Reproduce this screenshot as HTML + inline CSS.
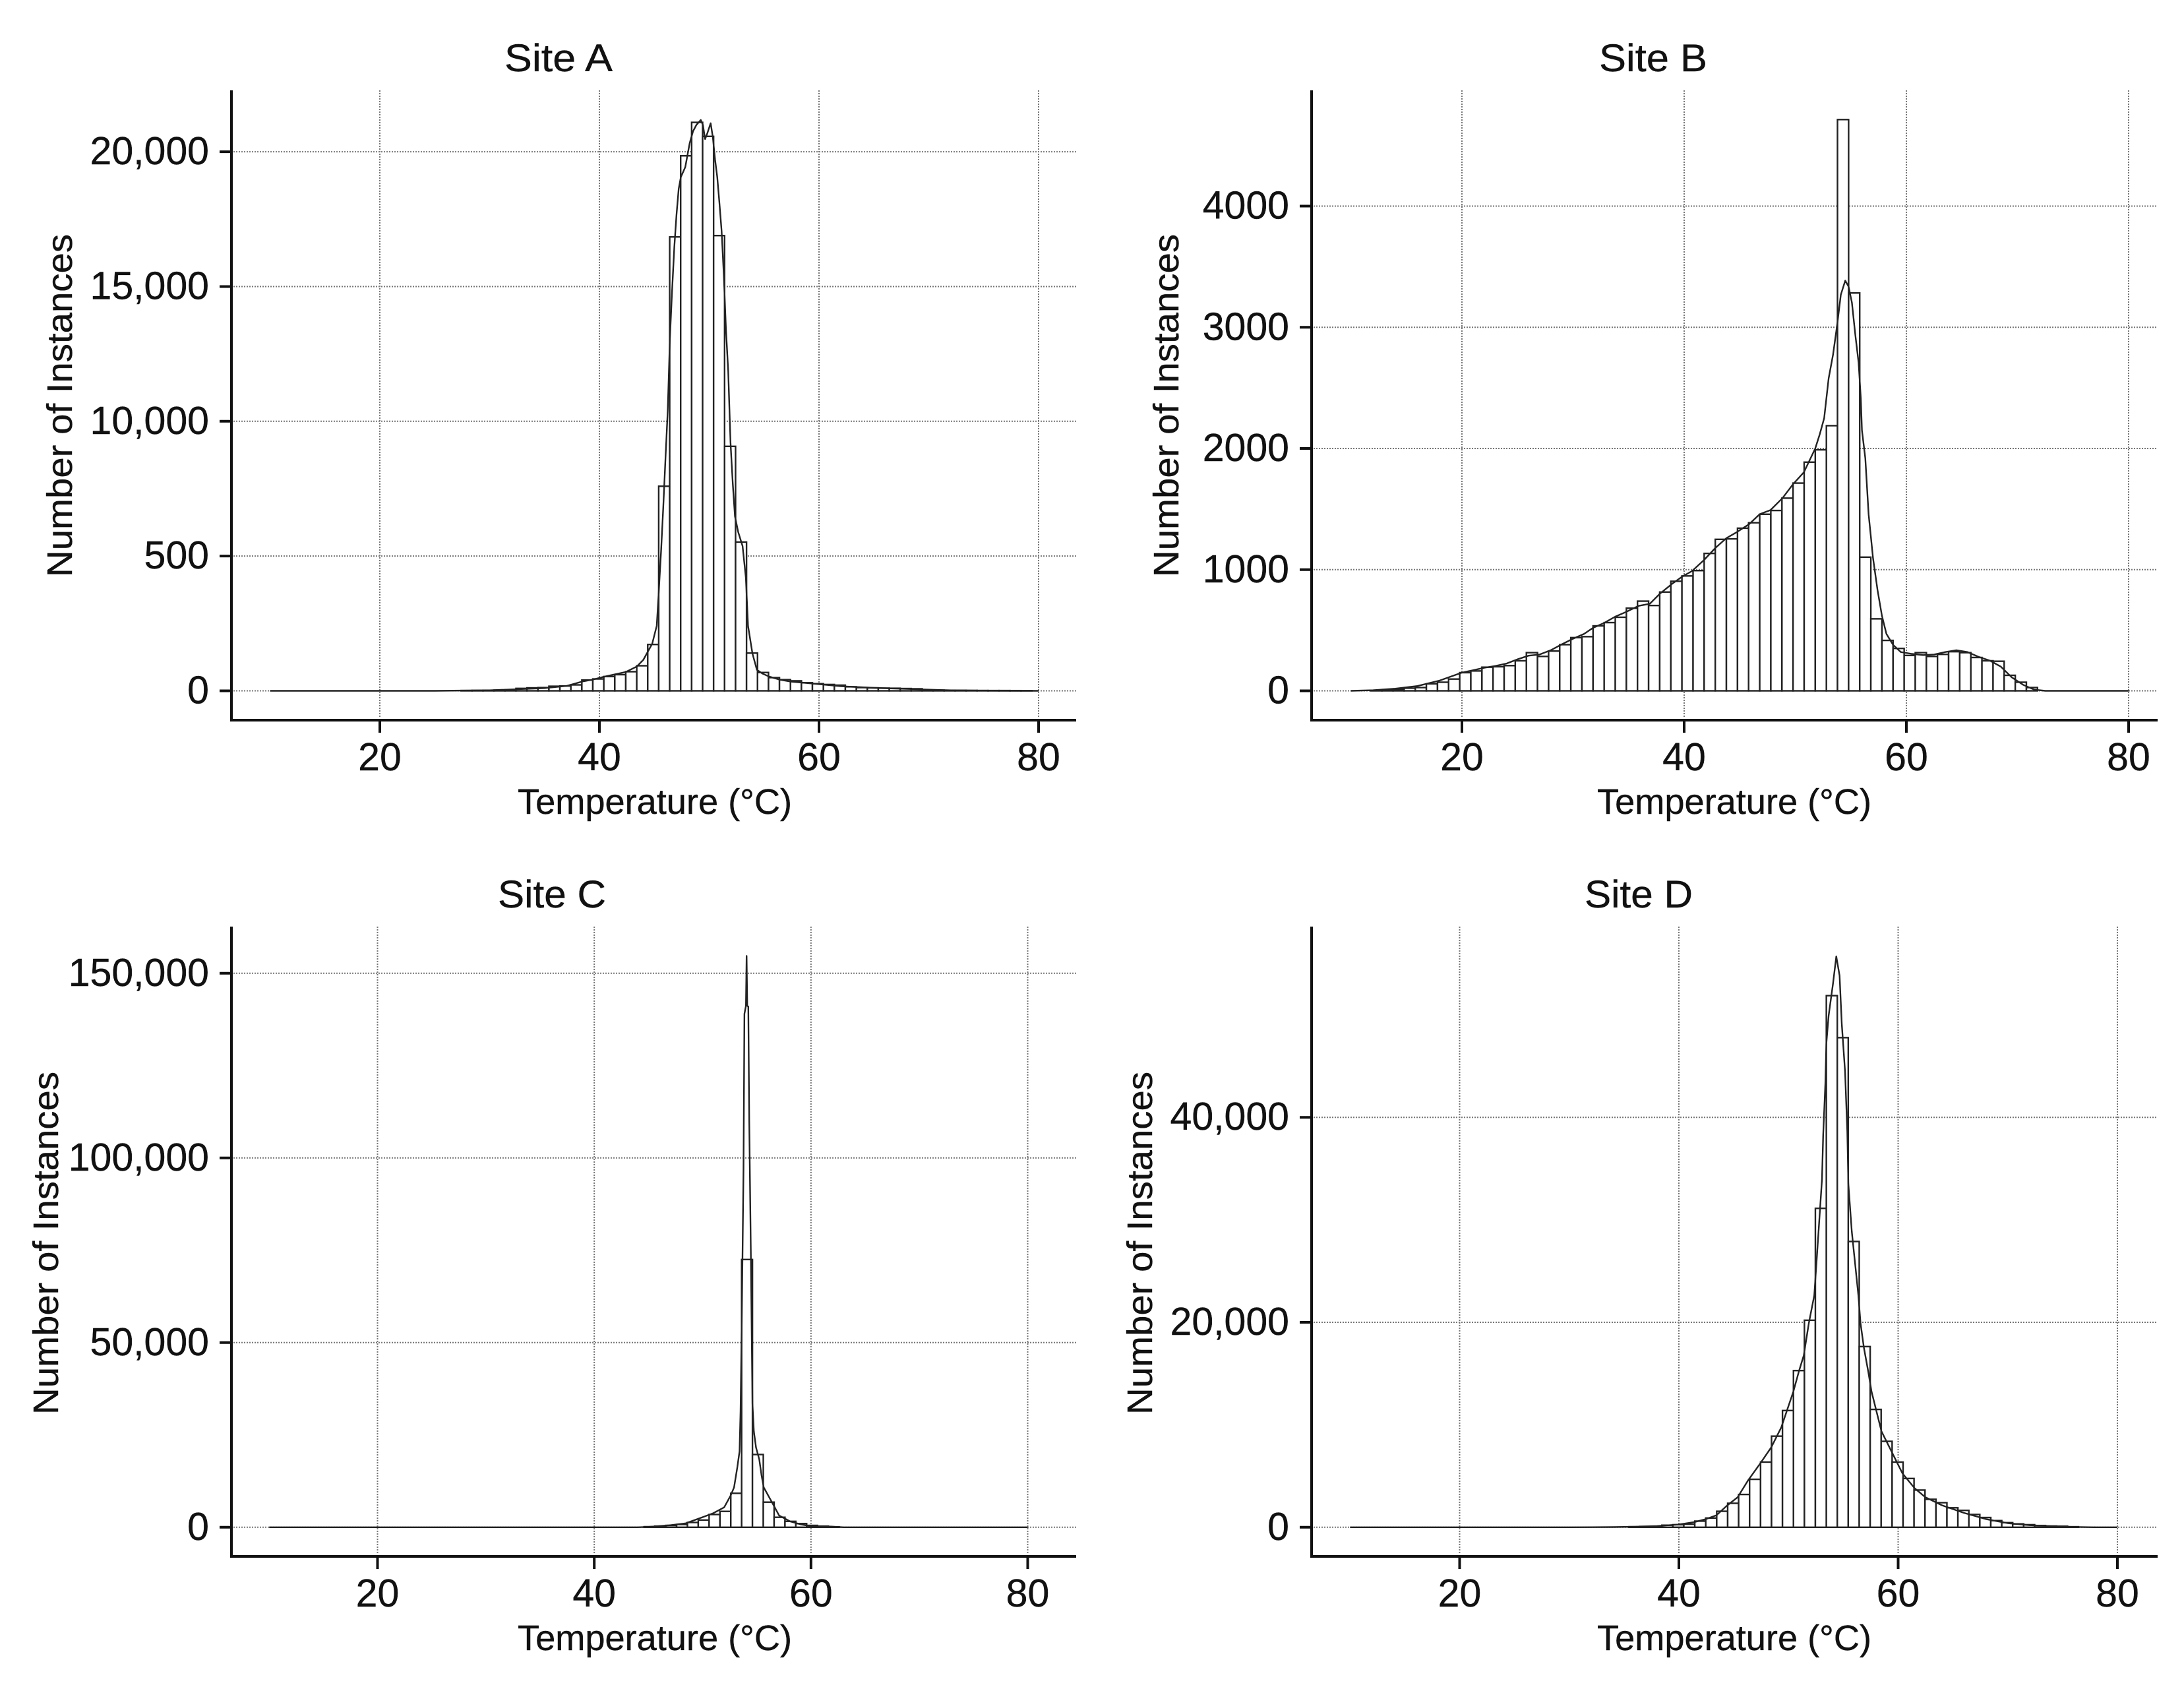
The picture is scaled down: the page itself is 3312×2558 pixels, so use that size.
<!DOCTYPE html>
<html lang="en">
<head>
<meta charset="utf-8">
<title>Temperature histograms by site</title>
<style>
  html, body { margin: 0; padding: 0; background: #fff; }
  svg { display: block; }
  text { font-family: "Liberation Sans", sans-serif; fill: #111; stroke: #111; stroke-width: 0.4px; }
  .title { font-size: 58px; text-anchor: middle; }
  .xlabel, .ylabel { font-size: 54px; text-anchor: middle; }
</style>
</head>
<body>
<svg id="figure" xmlns="http://www.w3.org/2000/svg" width="3312" height="2558" viewBox="0 0 3312 2558">
  <rect x="0" y="0" width="3312" height="2558" fill="#fff"/>

  <g id="panel-a"></g>
  <g id="panel-b"></g>
  <g id="panel-c"></g>
  <g id="panel-d"></g>

  <text class="title" x="847" y="108" textLength="164" lengthAdjust="spacingAndGlyphs">Site A</text>
  <text class="xlabel" x="993" y="1234" textLength="416" lengthAdjust="spacingAndGlyphs">Temperature (°C)</text>
  <text class="ylabel" transform="translate(109 615) rotate(-90)" textLength="520" lengthAdjust="spacingAndGlyphs">Number of Instances</text>

  <text class="title" x="2507" y="108" textLength="164" lengthAdjust="spacingAndGlyphs">Site B</text>
  <text class="xlabel" x="2630" y="1234" textLength="416" lengthAdjust="spacingAndGlyphs">Temperature (°C)</text>
  <text class="ylabel" transform="translate(1787 615) rotate(-90)" textLength="520" lengthAdjust="spacingAndGlyphs">Number of Instances</text>

  <text class="title" x="837" y="1376" textLength="164" lengthAdjust="spacingAndGlyphs">Site C</text>
  <text class="xlabel" x="993" y="2502" textLength="416" lengthAdjust="spacingAndGlyphs">Temperature (°C)</text>
  <text class="ylabel" transform="translate(88 1885) rotate(-90)" textLength="520" lengthAdjust="spacingAndGlyphs">Number of Instances</text>

  <text class="title" x="2485" y="1376" textLength="164" lengthAdjust="spacingAndGlyphs">Site D</text>
  <text class="xlabel" x="2630" y="2502" textLength="416" lengthAdjust="spacingAndGlyphs">Temperature (°C)</text>
  <text class="ylabel" transform="translate(1747 1885) rotate(-90)" textLength="520" lengthAdjust="spacingAndGlyphs">Number of Instances</text>
</svg>

<script>
// ---------- shared axis data ----------
const xTickValues = [20, 40, 60, 80];
const xTickLabels = ['20', '40', '60', '80'];

// ---------- Site A ----------
const yTickValuesA = [0, 5000, 10000, 15000, 20000];
const yTickLabelsA = ['0', '500', '10,000', '15,000', '20,000'];
const firstBinEdgeA = 27.4;
const binCountsA = [10, 15, 20, 25, 35, 90, 110, 120, 170, 180, 220, 400, 440, 530, 600, 710, 930, 1720, 7590, 16840, 19850, 21090, 20570, 16890, 9070, 5520, 1400, 680, 490, 415, 370, 300, 265, 235, 210, 150, 120, 110, 100, 95, 85, 75, 30, 25, 20, 18, 15, 12, 10, 10, 8, 6];
const curveTempsA = [10, 25, 30, 35, 37, 38.5, 39.4, 40.4, 41.4, 42.4, 43.4, 44, 44.81, 45.22, 45.42, 45.62, 45.82, 46.02, 46.22, 46.42, 46.62, 46.82, 47.02, 47.22, 47.42, 47.82, 48.22, 48.53, 48.83, 49.23, 49.43, 49.63, 49.83, 50.13, 50.33, 50.53, 50.73, 50.93, 51.13, 51.33, 51.53, 51.73, 51.94, 52.14, 52.34, 52.64, 53.04, 53.34, 53.54, 53.94, 54.34, 54.84, 55.45, 56.45, 57.45, 59.46, 62, 65, 68, 72, 75, 80];
const curveCountsA = [0, 0, 20, 100, 180, 350, 415, 520, 610, 700, 900, 1150, 1750, 2410, 3740, 5220, 6850, 8630, 10400, 13070, 14840, 16470, 17660, 18620, 19060, 19430, 20320, 20760, 20990, 21180, 20990, 20470, 20690, 21060, 20540, 19730, 19060, 18100, 17060, 15440, 13360, 11880, 9220, 7740, 6480, 5890, 5370, 4190, 2410, 1380, 780, 640, 530, 410, 340, 270, 170, 110, 70, 20, 5, 0];

// ---------- Site B ----------
const yTickValuesB = [0, 1000, 2000, 3000, 4000];
const yTickLabelsB = ['0', '1000', '2000', '3000', '4000'];
const firstBinEdgeB = 11.8;
const binCountsB = [3, 10, 13, 22, 27, 58, 71, 97, 150, 164, 195, 199, 208, 248, 315, 284, 328, 381, 439, 447, 536, 563, 607, 682, 740, 704, 815, 904, 948, 992, 1134, 1250, 1254, 1342, 1387, 1457, 1488, 1590, 1714, 1887, 1989, 2188, 4714, 3283, 1103, 594, 416, 350, 292, 315, 284, 301, 323, 315, 275, 248, 244, 128, 71, 27];
const curveTempsB = [10, 12, 14, 16, 18, 20, 21, 22, 23, 24, 25, 26, 27, 28, 29, 30, 31, 31.8, 32.8, 33.8, 34.8, 35.9, 36.9, 37.8, 38.9, 39.8, 40.7, 41.8, 42.8, 43.8, 44.75, 45.85, 46.8, 47.76, 48.85, 49.8, 50.78, 51.8, 52.2, 52.6, 53, 53.4, 53.8, 54.1, 54.5, 54.8, 55.1, 55.4, 55.7, 55.9, 56, 56.3, 56.6, 57, 57.4, 57.8, 58.2, 58.8, 59.5, 60.5, 61.5, 62.5, 63.5, 64.5, 65.5, 66.5, 67.5, 68.5, 69.5, 70.5, 71.5, 72.5, 80];
const curveCountsB = [0, 5, 18, 40, 85, 150, 170, 190, 205, 225, 260, 290, 300, 335, 385, 430, 470, 520, 560, 612, 652, 701, 718, 800, 882, 941, 988, 1080, 1178, 1260, 1310, 1376, 1458, 1491, 1590, 1705, 1804, 2000, 2117, 2249, 2578, 2775, 3039, 3269, 3385, 3335, 3203, 2940, 2710, 2413, 2150, 1920, 1458, 1096, 833, 620, 470, 380, 320, 305, 295, 300, 320, 335, 320, 280, 250, 200, 110, 50, 10, 0, 0];

// ---------- Site C ----------
const yTickValuesC = [0, 50000, 100000, 150000];
const yTickLabelsC = ['0', '50,000', '100,000', '150,000'];
const firstBinEdgeC = 44.6;
const binCountsC = [150, 300, 500, 750, 1300, 1950, 3460, 4300, 9200, 72500, 19700, 6800, 2700, 1600, 1000, 500, 300, 100];
const curveTempsC = [10, 44, 45, 46.92, 48.44, 49.96, 50.97, 51.99, 52.6, 52.9, 53.2, 53.41, 53.5, 53.61, 53.77, 53.86, 54, 54.06, 54.12, 54.22, 54.3, 54.45, 54.6, 54.73, 54.93, 55.23, 55.44, 55.64, 56.45, 57.06, 58.07, 59.09, 59.9, 61.9, 63, 80];
const curveCountsC = [0, 0, 100, 540, 1080, 2700, 3790, 5400, 8660, 10800, 16200, 20560, 31400, 54600, 96800, 139000, 141200, 154700, 141200, 141000, 110000, 75000, 33500, 26000, 21600, 18400, 14000, 10800, 6500, 3200, 1600, 750, 320, 200, 0, 0];

// ---------- Site D ----------
const yTickValuesD = [0, 20000, 40000];
const yTickLabelsD = ['0', '20,000', '40,000'];
const firstBinEdgeD = 35.45;
const binCountsD = [50, 80, 100, 200, 250, 300, 600, 900, 1560, 2340, 3200, 4680, 6360, 8890, 11390, 15290, 20200, 31120, 51870, 47775, 27885, 17630, 11500, 8385, 6360, 4760, 3630, 2730, 2400, 1900, 1650, 1250, 950, 650, 450, 330, 250, 170, 120, 100, 50];
const curveTempsD = [10, 30, 34, 36, 38, 40, 41.41, 42.41, 43.42, 44.42, 45.36, 46.33, 47.43, 48.43, 49.34, 50.45, 50.95, 51.39, 51.85, 52.35, 52.55, 52.86, 53.05, 53.16, 53.36, 53.45, 53.66, 54.06, 54.36, 54.66, 54.86, 55.16, 55.36, 55.46, 55.77, 56.07, 56.37, 56.57, 56.87, 57.27, 57.57, 57.98, 58.48, 59.48, 60.39, 61.49, 62.49, 64, 66, 68, 70, 72, 74, 76, 78, 80];
const curveCountsD = [0, 0, 20, 50, 120, 270, 507, 780, 1170, 2145, 2925, 4600, 6240, 7800, 9750, 13260, 15210, 16770, 19890, 22620, 25740, 30810, 33930, 38220, 43290, 47190, 49920, 53040, 55700, 53820, 49140, 44460, 38610, 33540, 28860, 25740, 22620, 19890, 17550, 15210, 13260, 11500, 9360, 7215, 5265, 3820, 2925, 2145, 1400, 800, 400, 200, 100, 30, 0, 0];

// ---------- drawing ----------
const SVG_NS = 'http://www.w3.org/2000/svg';

function shape(tag, attrs) {
  const el = document.createElementNS(SVG_NS, tag);
  Object.keys(attrs).forEach(function (k) { el.setAttribute(k, attrs[k]); });
  return el;
}

function drawPanel(cfg) {
  const root = document.getElementById(cfg.id);
  // axis functions: linear through two calibrated anchor ticks
  const xScale = function (t) { return cfg.x20 + (t - 20) * (cfg.x80 - cfg.x20) / 60; };
  const yScale = function (v) { return cfg.y0 - v * cfg.yPerUnit; };
  const prefix = cfg.prefix;

  // grid
  cfg.yTicks.forEach(function (v) {
    const line = shape('line', { x1: cfg.left + 3, x2: cfg.right, y1: yScale(v), y2: yScale(v), stroke: '#777', 'stroke-width': 2, 'stroke-dasharray': '2 2' });
    
    
    root.appendChild(line);
  });
  xTickValues.forEach(function (t) {
    const line = shape('line', { x1: xScale(t), x2: xScale(t), y1: cfg.top, y2: cfg.bottom - 3, stroke: '#777', 'stroke-width': 2, 'stroke-dasharray': '2 2' });
    
    
    root.appendChild(line);
  });

  // histogram bars (1 °C bins)
  cfg.counts.forEach(function (count, i) {
    const edge = cfg.firstEdge + i;
    const x0 = xScale(edge);
    const x1 = xScale(edge + 1);
    const yTop = yScale(count);
    const bar = shape('rect', { x: x0, y: yTop, width: x1 - x0, height: cfg.y0 - yTop, fill: '#fff', stroke: '#222', 'stroke-width': 2.4 });
    
    
    root.appendChild(bar);
  });

  // density curve
  const points = cfg.curveTemps.map(function (t, i) {
    return xScale(t).toFixed(1) + ',' + yScale(cfg.curveCounts[i]).toFixed(1);
  }).join(' ');
  const curve = shape('polyline', { points: points, fill: 'none', stroke: '#222', 'stroke-width': 2.4, 'stroke-linejoin': 'round' });
  
  
  root.appendChild(curve);

  // axis lines
  const yAxis = shape('line', { x1: cfg.left, x2: cfg.left, y1: cfg.top, y2: cfg.bottom + 2, stroke: '#111', 'stroke-width': 4 });
  
  
  root.appendChild(yAxis);
  const xAxis = shape('line', { x1: cfg.left - 2, x2: cfg.right, y1: cfg.bottom, y2: cfg.bottom, stroke: '#111', 'stroke-width': 4 });
  
  
  root.appendChild(xAxis);

  // y ticks + labels
  cfg.yTicks.forEach(function (v, i) {
    const tick = shape('line', { x1: cfg.left - 18, x2: cfg.left, y1: yScale(v), y2: yScale(v), stroke: '#111', 'stroke-width': 4 });
    
    
    root.appendChild(tick);
    const label = shape('text', { x: cfg.left - 34, y: yScale(v) + 19, 'text-anchor': 'end', 'font-size': 59 });
    label.textContent = cfg.yLabels[i];
    
    
    root.appendChild(label);
  });

  // x ticks + labels
  xTickValues.forEach(function (t, i) {
    const tick = shape('line', { x1: xScale(t), x2: xScale(t), y1: cfg.bottom, y2: cfg.bottom + 19, stroke: '#111', 'stroke-width': 4 });
    
    
    root.appendChild(tick);
    const label = shape('text', { x: xScale(t), y: cfg.bottom + 76, 'text-anchor': 'middle', 'font-size': 59 });
    label.textContent = xTickLabels[i];
    
    
    root.appendChild(label);
  });
}

drawPanel({ id: 'panel-a', prefix: 'site-a', left: 351, right: 1632, top: 137, bottom: 1092, x20: 576, x80: 1575, y0: 1047.5, yPerUnit: 0.04087, yTicks: yTickValuesA, yLabels: yTickLabelsA, firstEdge: firstBinEdgeA, counts: binCountsA, curveTemps: curveTempsA, curveCounts: curveCountsA });
drawPanel({ id: 'panel-b', prefix: 'site-b', left: 1989, right: 3272, top: 137, bottom: 1092, x20: 2217, x80: 3228, y0: 1047.5, yPerUnit: 0.18375, yTicks: yTickValuesB, yLabels: yTickLabelsB, firstEdge: firstBinEdgeB, counts: binCountsB, curveTemps: curveTempsB, curveCounts: curveCountsB });
drawPanel({ id: 'panel-c', prefix: 'site-c', left: 351, right: 1632, top: 1405, bottom: 2360, x20: 572.5, x80: 1558.5, y0: 2315.8, yPerUnit: 0.0056, yTicks: yTickValuesC, yLabels: yTickLabelsC, firstEdge: firstBinEdgeC, counts: binCountsC, curveTemps: curveTempsC, curveCounts: curveCountsC });
drawPanel({ id: 'panel-d', prefix: 'site-d', left: 1989, right: 3272, top: 1405, bottom: 2360, x20: 2213.5, x80: 3211, y0: 2315.8, yPerUnit: 0.01554, yTicks: yTickValuesD, yLabels: yTickLabelsD, firstEdge: firstBinEdgeD, counts: binCountsD, curveTemps: curveTempsD, curveCounts: curveCountsD });
</script>
</body>
</html>
